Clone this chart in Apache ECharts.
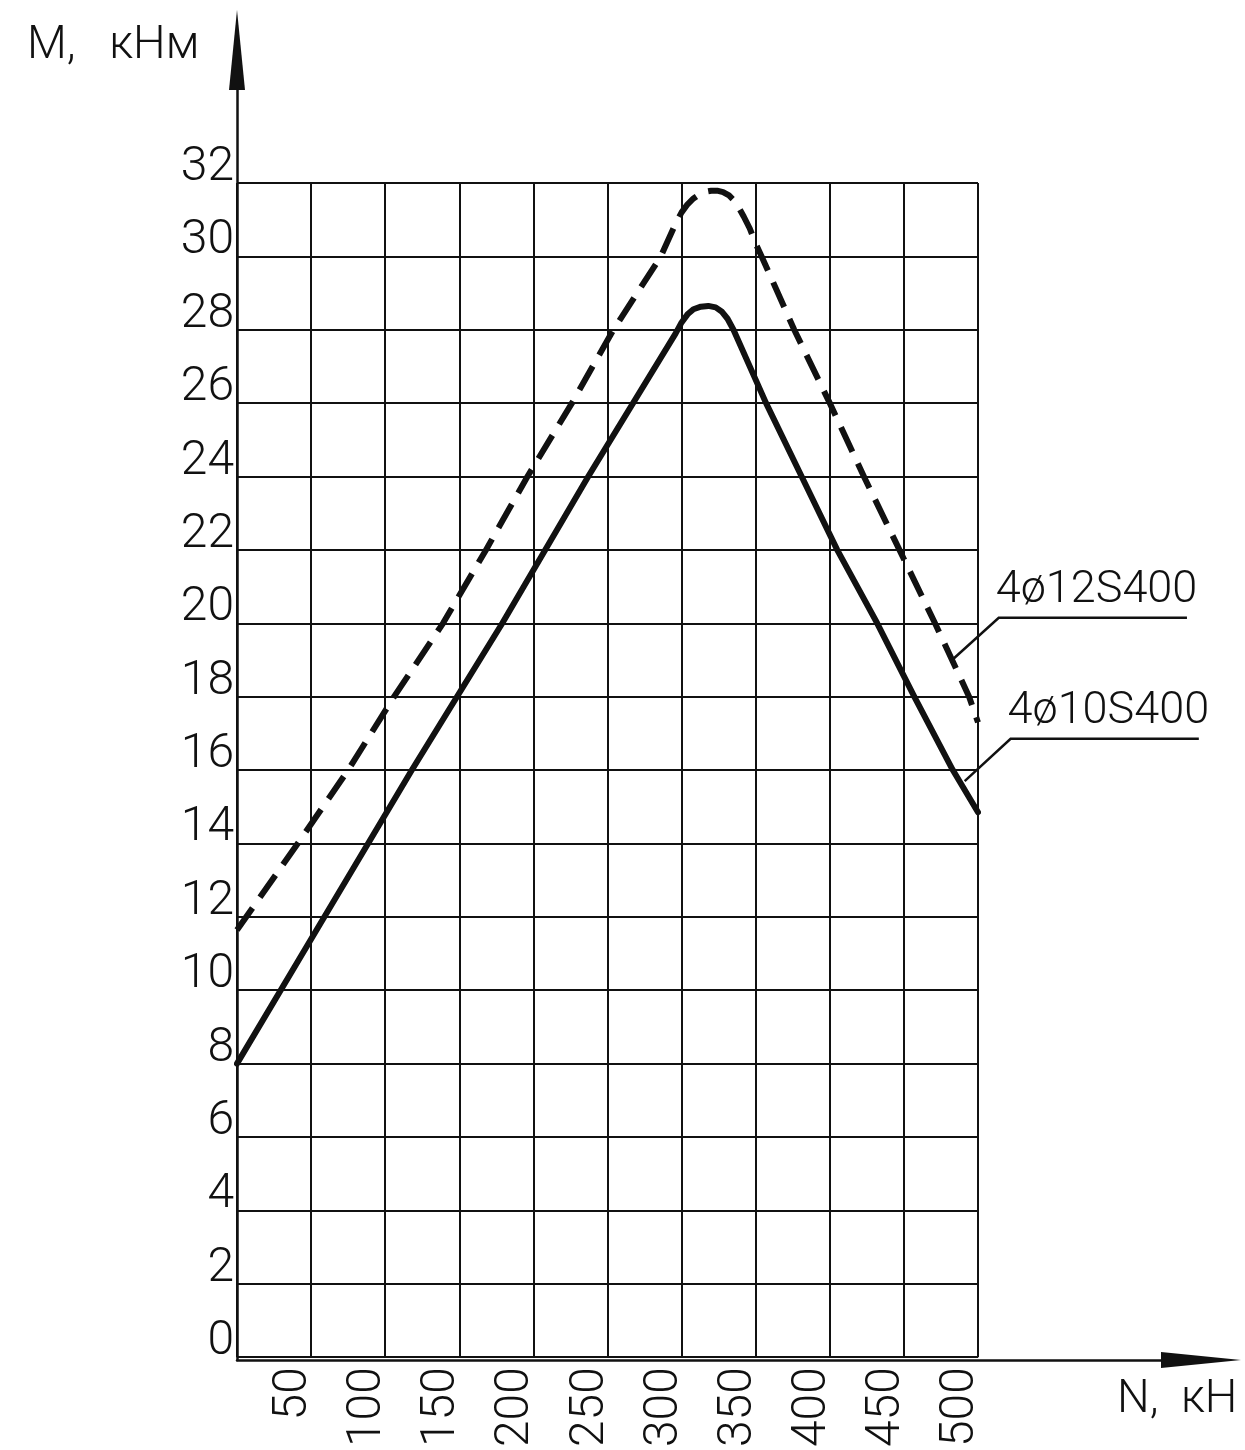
<!DOCTYPE html>
<html>
<head>
<meta charset="utf-8">
<title>M - N</title>
<script src="https://cdn.jsdelivr.net/npm/echarts@6/dist/echarts.min.js"></script>
<style>
  html, body { margin: 0; padding: 0; background: #fff; }
  #main { width: 1245px; height: 1450px; }
</style>
</head>
<body>
<div id="main"></div>
<script>
// подписи осей
var xTicks = [50, 100, 150, 200, 250, 300, 350, 400, 450, 500];
var yTicks = [0, 2, 4, 6, 8, 10, 12, 14, 16, 18, 20, 22, 24, 26, 28, 30, 32];

// 4ø10S400 (сплошная)
var solidN = [0, 59, 118, 179, 237, 296, 300, 304, 308, 313, 318, 323, 327, 331, 335, 357, 381, 405, 432, 457, 483, 500];
var solidM = [8, 12, 16, 20, 24, 27.9, 28.2, 28.42, 28.56, 28.63, 28.65, 28.61, 28.5, 28.3, 28.0, 26, 24, 22, 20, 18, 16, 14.85];

// 4ø12S400 (пунктир)
var dashN = [0, 41, 75, 106, 139, 168, 196, 226, 254, 286, 296, 300, 304, 308, 312, 316, 320, 324, 328, 332, 336, 339, 342, 346, 350, 354, 376, 400, 423, 447, 471, 494, 500];
var dashM = [11.64, 14, 16, 18, 20, 22, 24, 26, 28, 30, 30.9, 31.2, 31.42, 31.58, 31.69, 31.76, 31.79, 31.79, 31.75, 31.66, 31.5, 31.3, 31.08, 30.76, 30.35, 30, 28, 26, 24, 22, 20, 18, 17.3];

// выноски: надпись, точка на кривой, излом, конец полки (N, M)
var labels = ['4ø12S400', '4ø10S400'];
var leaderTip = [[482.5, 19.0], [491, 15.7]];
var leaderKnee = [[514, 20.15], [522, 16.85]];
var shelfEnd = [[641, 20.15], [649, 16.85]];

var FONT = 'Roboto';
var INK = '#111';

function pairs(a, b) {
  return a.map(function (v, i) { return [v, b[i]]; });
}

var chart = echarts.init(document.getElementById('main'));

chart.setOption({
  backgroundColor: '#fff',
  animation: false,
  title: [
    { text: 'M,   кНм', left: 22, top: 18,
      textStyle: { fontFamily: FONT, fontWeight: 300, fontSize: 46, color: INK } },
    { text: 'N,  кН', left: 1112, top: 1372,
      textStyle: { fontFamily: FONT, fontWeight: 300, fontSize: 46, color: INK } }
  ],
  grid: [
    { left: 237, top: 183, width: 741, height: 1177 },
    // только для осей со стрелками
    { left: 237, top: 50, right: 44, bottom: 90 }
  ],
  xAxis: [
    {
      type: 'value', gridIndex: 0, min: 0, max: 500, interval: 50,
      axisLine: { show: false },
      axisTick: { show: false },
      splitLine: { show: true, lineStyle: { color: INK, width: 2 } },
      axisLabel: {
        rotate: 90, margin: 10, verticalAlign: 'bottom', lineHeight: 34,
        fontFamily: FONT, fontWeight: 300, fontSize: 48, color: INK,
        formatter: function (v) { return xTicks.indexOf(v) >= 0 ? String(v) : ''; }
      }
    },
    {
      type: 'value', gridIndex: 1, min: 0, max: 1,
      axisLine: { show: true, symbol: ['none', 'triangle'], symbolSize: [16, 80],
        lineStyle: { color: INK, width: 2.5 } },
      axisTick: { show: false }, axisLabel: { show: false }, splitLine: { show: false }
    }
  ],
  yAxis: [
    {
      type: 'value', gridIndex: 0, min: 0, max: 32, interval: 2,
      axisLine: { show: false },
      axisTick: { show: false },
      splitLine: { show: true, lineStyle: { color: INK, width: 2 } },
      axisLabel: {
        margin: 3, verticalAlign: 'bottom', lineHeight: 30,
        fontFamily: FONT, fontWeight: 300, fontSize: 48, color: INK,
        formatter: function (v) { return yTicks.indexOf(v) >= 0 ? String(v) : ''; }
      }
    },
    {
      type: 'value', gridIndex: 1, min: 0, max: 1,
      axisLine: { show: true, symbol: ['none', 'triangle'], symbolSize: [16, 80],
        lineStyle: { color: INK, width: 2.5 } },
      axisTick: { show: false }, axisLabel: { show: false }, splitLine: { show: false }
    }
  ],
  series: [
    {
      name: '4ø12S400', type: 'line', xAxisIndex: 0, yAxisIndex: 0,
      data: pairs(dashN, dashM), showSymbol: false, smooth: false,
      lineStyle: { color: INK, width: 6, type: [27, 13], join: 'round' }
    },
    {
      name: '4ø10S400', type: 'line', xAxisIndex: 0, yAxisIndex: 0,
      data: pairs(solidN, solidM), showSymbol: false, smooth: false,
      lineStyle: { color: INK, width: 6, cap: 'round', join: 'round' }
    }
  ]
});

// выноски с полкой
var g = [];
labels.forEach(function (txt, i) {
  var tip = chart.convertToPixel({ gridIndex: 0 }, leaderTip[i]);
  var knee = chart.convertToPixel({ gridIndex: 0 }, leaderKnee[i]);
  var end = chart.convertToPixel({ gridIndex: 0 }, shelfEnd[i]);
  g.push({
    type: 'polyline', shape: { points: [tip, knee, end] },
    style: { stroke: INK, lineWidth: 2.5, fill: null }
  });
  g.push({
    type: 'text', x: knee[0] - 3, y: knee[1] - 5,
    style: { text: txt, fontFamily: FONT, fontWeight: 300, fontSize: 45, fill: INK,
      textVerticalAlign: 'bottom' }
  });
});
chart.setOption({ graphic: g });
</script>
</body>
</html>
